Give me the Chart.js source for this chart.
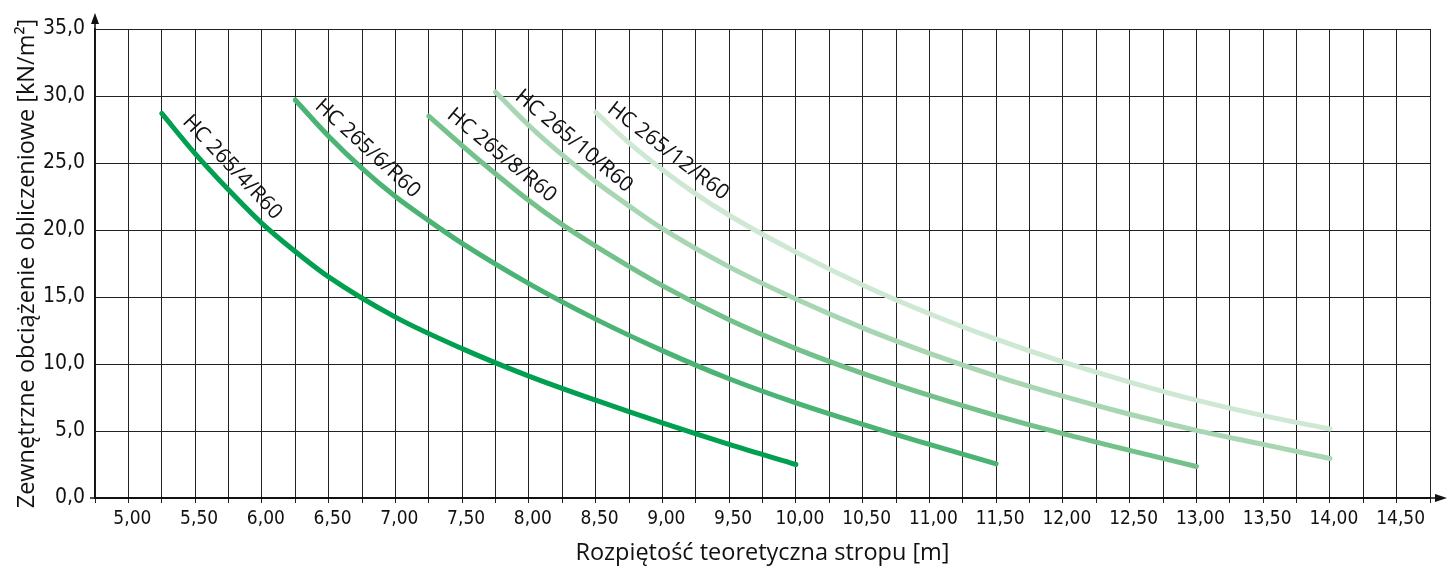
<!DOCTYPE html>
<html>
<head>
<meta charset="utf-8">
<title>Nośność stropów HC 265</title>
<script src="https://cdn.jsdelivr.net/npm/chart.js@4/dist/chart.umd.min.js"></script>
<style>
  html, body { margin: 0; padding: 0; background: #fff; }
  canvas { display: block; }
</style>
</head>
<body>
<canvas id="chart" width="1452" height="569"></canvas>
<script>
// Slab types
const slabNames = ['HC 265/4/R60', 'HC 265/6/R60', 'HC 265/8/R60', 'HC 265/10/R60', 'HC 265/12/R60'];

// Spans [m] and design loads [kN/m2] for each slab type
const span4 = [5.25, 5.5, 5.75, 6.0, 6.25, 6.5, 7.0, 7.5, 8.0, 8.5, 9.0, 9.5, 10.0];
const load4 = [28.7, 25.7, 23.0, 20.5, 18.4, 16.5, 13.5, 11.15, 9.1, 7.3, 5.6, 4.0, 2.5];

const span6 = [6.25, 6.5, 6.75, 7.0, 7.25, 7.5, 8.0, 8.5, 9.0, 9.5, 10.0, 10.5, 11.0, 11.5];
const load6 = [29.7, 27.0, 24.6, 22.5, 20.7, 19.0, 16.0, 13.35, 11.0, 8.9, 7.1, 5.5, 4.0, 2.55];

const span8 = [7.25, 7.5, 7.75, 8.0, 8.25, 8.5, 9.0, 9.5, 10.0, 10.5, 11.0, 11.5, 12.0, 12.5, 13.0];
const load8 = [28.5, 26.3, 24.2, 22.2, 20.4, 18.8, 15.85, 13.3, 11.15, 9.3, 7.65, 6.15, 4.8, 3.55, 2.35];

const span10 = [7.75, 8.0, 8.25, 8.5, 8.75, 9.0, 9.5, 10.0, 10.5, 11.0, 11.5, 12.0, 12.5, 13.0, 13.5, 14.0];
const load10 = [30.3, 27.8, 25.6, 23.6, 21.8, 20.1, 17.25, 14.85, 12.7, 10.8, 9.1, 7.6, 6.25, 5.05, 4.0, 2.95];

const span12 = [8.5, 8.75, 9.0, 9.25, 9.5, 10.0, 10.5, 11.0, 11.5, 12.0, 12.5, 13.0, 13.5, 14.0];
const load12 = [28.8, 26.5, 24.5, 22.7, 21.1, 18.35, 15.9, 13.75, 11.85, 10.15, 8.65, 7.3, 6.15, 5.15];

const spans = [span4, span6, span8, span10, span12];
const loads = [load4, load6, load8, load10, load12];

// Axis titles
const xTitle = 'Rozpiętość teoretyczna stropu [m]';
const yTitle = 'Zewnętrzne obciążenie obliczeniowe [kN/m²]';

const lineColors = ['#00a050', '#4bb374', '#74c18c', '#a8d6b2', '#cfe8d4'];

// Where each curve name sits along its curve (span value) and its distance from the line
const labelSpots = [
  { at: 5.68, gap: 18 },
  { at: 6.70, gap: 18 },
  { at: 7.71, gap: 18 },
  { at: 8.25, gap: 18 },
  { at: 8.96, gap: 18 }
];

const narrow = "'Liberation Sans Narrow', 'DejaVu Sans Condensed', sans-serif";
const regular = "'Open Sans', 'Noto Sans', sans-serif";
const ink = '#111';
const gridInk = '#222';

function comma(v, d) { return v.toFixed(d).replace('.', ','); }

function loadAt(xs, ys, x) {
  for (let i = 0; i < xs.length - 1; i++) {
    if (x >= xs[i] && x <= xs[i + 1]) {
      const t = (x - xs[i]) / (xs[i + 1] - xs[i]);
      return ys[i] + t * (ys[i + 1] - ys[i]);
    }
  }
  return ys[ys.length - 1];
}

// Axis arrows and the extra stubs of the axis lines
const axisArrows = {
  id: 'axisArrows',
  afterDraw(chart) {
    const { ctx, chartArea: a } = chart;
    ctx.save();
    ctx.strokeStyle = ink;
    ctx.fillStyle = ink;
    ctx.lineWidth = 1.5;
    ctx.beginPath();
    ctx.moveTo(a.left, a.top);
    ctx.lineTo(a.left, a.top - 8);
    ctx.moveTo(a.left - 5, a.bottom);
    ctx.lineTo(a.right + 6, a.bottom);
    ctx.stroke();
    ctx.beginPath();
    ctx.moveTo(a.left, a.top - 16);
    ctx.lineTo(a.left - 4, a.top - 5);
    ctx.lineTo(a.left + 4, a.top - 5);
    ctx.closePath();
    ctx.fill();
    ctx.beginPath();
    ctx.moveTo(a.right + 17, a.bottom);
    ctx.lineTo(a.right + 5, a.bottom - 4);
    ctx.lineTo(a.right + 5, a.bottom + 4);
    ctx.closePath();
    ctx.fill();
    ctx.restore();
  }
};

// Curve names written along each curve
const curveNames = {
  id: 'curveNames',
  afterDatasetsDraw(chart) {
    const { ctx, scales: { x, y } } = chart;
    ctx.save();
    ctx.fillStyle = ink;
    ctx.font = '21px ' + regular;
    ctx.textAlign = 'center';
    ctx.textBaseline = 'middle';
    labelSpots.forEach((spot, i) => {
      const xs = spans[i], ys = loads[i];
      const x0 = spot.at - 0.2, x1 = spot.at + 0.2;
      const p0 = [x.getPixelForValue(x0), y.getPixelForValue(loadAt(xs, ys, x0))];
      const p1 = [x.getPixelForValue(x1), y.getPixelForValue(loadAt(xs, ys, x1))];
      const ang = Math.atan2(p1[1] - p0[1], p1[0] - p0[0]);
      const px = x.getPixelForValue(spot.at);
      const py = y.getPixelForValue(loadAt(xs, ys, spot.at));
      const cx = px + spot.gap * Math.sin(ang);
      const cy = py - spot.gap * Math.cos(ang);
      ctx.save();
      ctx.translate(cx, cy);
      ctx.rotate(ang);
      ctx.fillText(slabNames[i], 0, 0);
      ctx.restore();
    });
    ctx.restore();
  }
};

const datasets = slabNames.map((name, i) => ({
  label: name,
  data: spans[i].map((s, k) => ({ x: s, y: loads[i][k] })),
  borderColor: lineColors[i],
  backgroundColor: lineColors[i],
  borderWidth: 5,
  borderCapStyle: 'round',
  borderJoinStyle: 'round',
  pointRadius: 0,
  cubicInterpolationMode: 'monotone',
  fill: false
}));

new Chart(document.getElementById('chart'), {
  type: 'line',
  data: { datasets },
  options: {
    responsive: false,
    animation: false,
    layout: { padding: { top: 29, right: 22, left: 0, bottom: 0 } },
    plugins: {
      legend: { display: false },
      tooltip: { enabled: false }
    },
    scales: {
      x: {
        type: 'linear',
        min: 4.75,
        max: 14.75,
        ticks: {
          stepSize: 0.25,
          autoSkip: false,
          maxRotation: 0,
          labelOffset: 4,
          padding: 5,
          color: ink,
          font: { family: narrow, size: 19 },
          callback: (v) => {
            const half = Math.abs(v * 2 - Math.round(v * 2)) < 1e-6;
            return half && v > 4.9 && v < 14.6 ? comma(v, 2) : '';
          }
        },
        grid: { color: gridInk, lineWidth: 1, tickLength: 5, tickColor: gridInk },
        border: { color: ink, width: 1.5 },
        title: {
          display: true,
          text: xTitle,
          color: ink,
          font: { family: regular, size: 23.5 },
          padding: { top: 0, bottom: 2 }
        },
        afterFit: (s) => { s.height = 71; }
      },
      y: {
        min: 0,
        max: 35,
        ticks: {
          stepSize: 5,
          padding: 10,
          color: ink,
          font: { family: narrow, size: 21 },
          callback: (v) => comma(v, 1)
        },
        grid: { color: gridInk, lineWidth: 1, drawTicks: false },
        border: { color: ink, width: 1.5 },
        title: {
          display: true,
          text: yTitle,
          color: ink,
          font: { family: regular, size: 23.5 },
          padding: { top: 13, bottom: 0 }
        },
        afterFit: (s) => { s.width = 95; }
      }
    }
  },
  plugins: [axisArrows, curveNames]
});
</script>
</body>
</html>
